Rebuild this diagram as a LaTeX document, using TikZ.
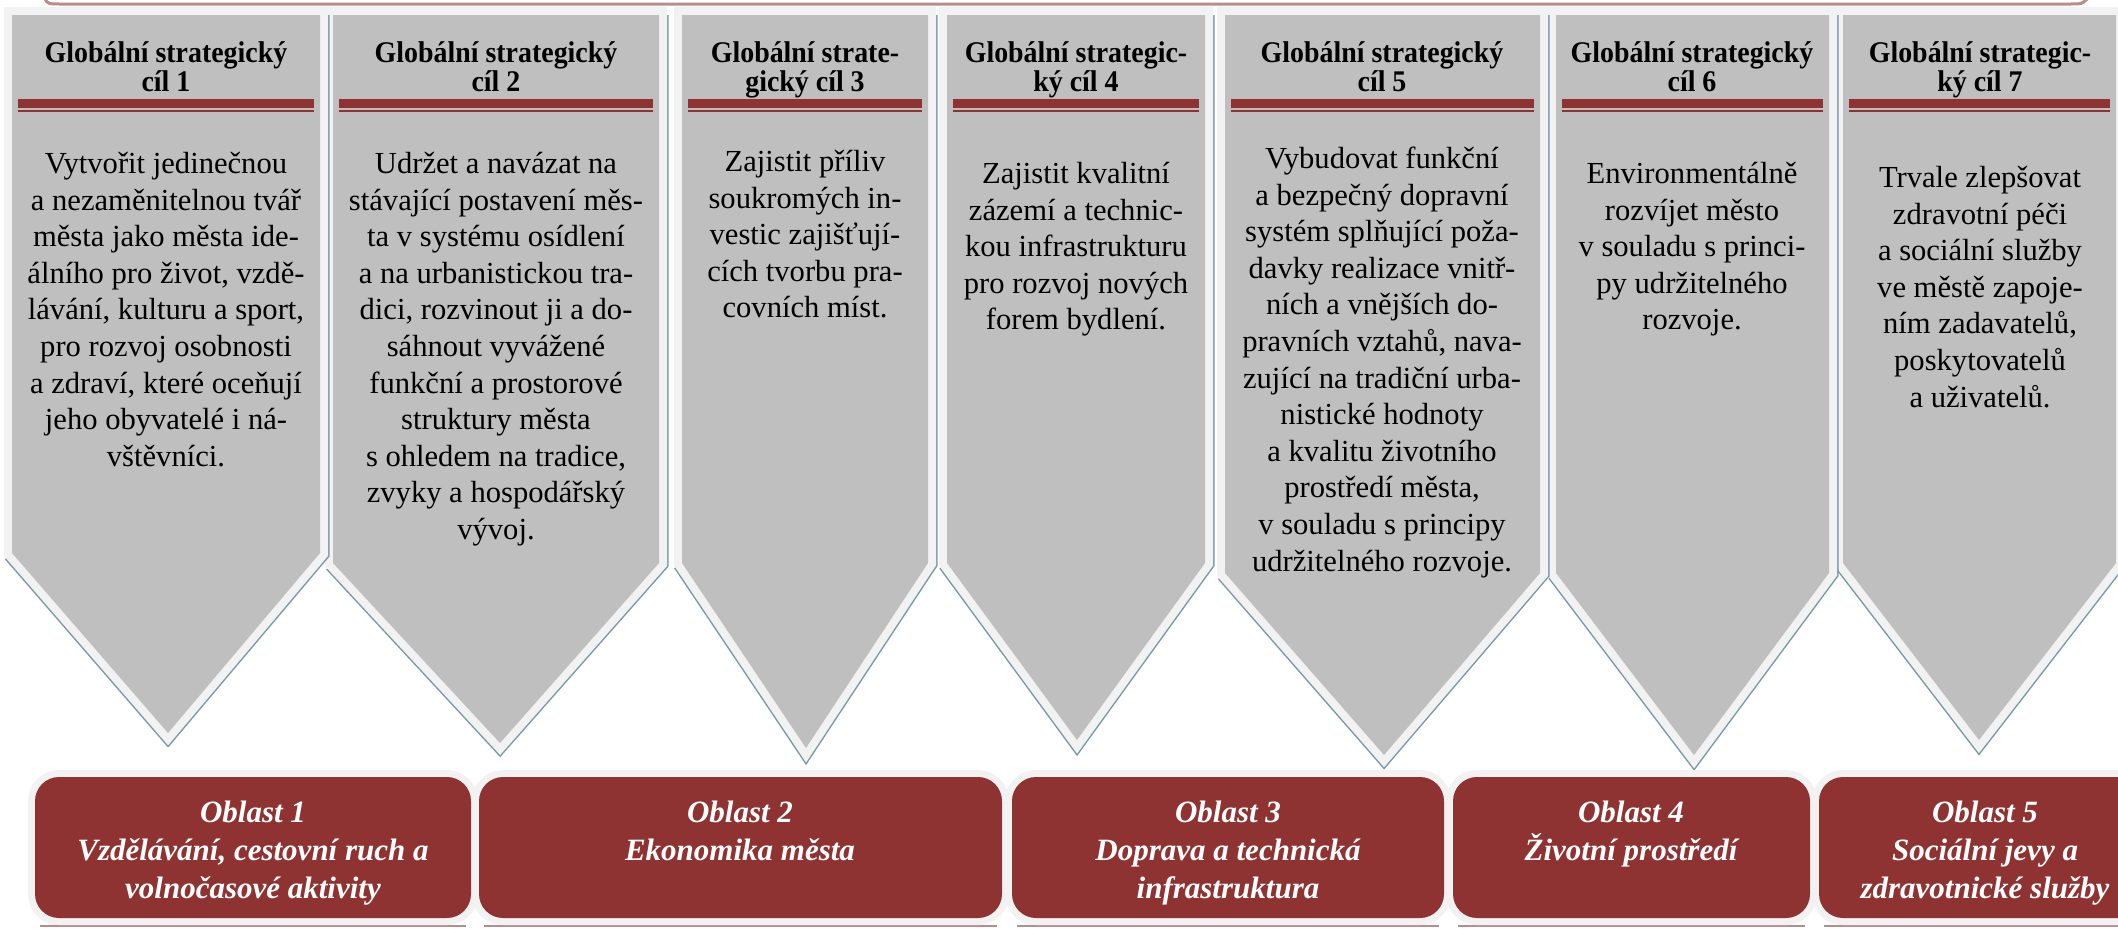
\documentclass[tikz,border=0pt]{standalone}
\usepackage{fontspec}
\setmainfont{Liberation Serif}
\newfontfamily\goalfont[FakeStretch=0.93]{Liberation Serif}
\usetikzlibrary{calc}

\definecolor{panelgrey}{HTML}{BFBFBF}
\definecolor{rimgrey}{HTML}{F2F2F2}
\definecolor{rimblue}{HTML}{7A9AA6}
\definecolor{oblastred}{HTML}{8E3332}
\definecolor{shadowred}{HTML}{B98C8C}
\newcommand\lineone{\rule{0pt}{12pt}}

\begin{document}
\begin{tikzpicture}[x=0.5pt, y=-0.5pt,
  headtext/.style={anchor=north, inner sep=0pt, align=center, font=\goalfont\bfseries\fontsize{15}{14.5}\selectfont},
  goaltext/.style={anchor=north, inner sep=0pt, align=center, font=\fontsize{15.3}{18.3}\selectfont},
  oblasttext/.style={anchor=north, inner sep=0pt, align=center, text=white, font=\bfseries\itshape\fontsize{15.5}{19}\selectfont}]
\useasboundingbox (0,0) rectangle (2118,928);
\clip (0,0) rectangle (2118,928);

\draw[shadowred, line width=1.5pt] (45,-1) .. controls (48,4) .. (62,4) -- (2068,4) .. controls (2082,4) .. (2087,-1);

\foreach \l/\r/\s/\tx/\ty in {1843/2116/563/1979/740, 1556/1829/573/1694/755, 1225/1540/573/1384/755, 947/1205/563/1077/740, 682/928/563/806/748, 333/659/563/500/743, 12/320/553/168/733} {
  \draw[rimblue, line width=9.5pt, line join=miter] (\l,\s) -- (\tx,\ty) -- (\r,\s) -- (\r,15);
  \draw[rimgrey, line width=8pt, line join=miter] (\l,15) -- (\r,15) -- (\r,\s) -- (\tx,\ty) -- (\l,\s) -- cycle;
  \fill[panelgrey] (\l,15) -- (\r,15) -- (\r,\s) -- (\tx,\ty) -- (\l,\s) -- cycle;
  \fill[oblastred] (\l+6,99) rectangle (\r-6,108);
  \fill[oblastred] (\l+6,110) rectangle (\r-6,112);
}

\node[headtext] (head1) at (166,38) {\lineone Globální strategický\\cíl 1};
\node[headtext] (head2) at (496,38) {\lineone Globální strategický\\cíl 2};
\node[headtext] (head3) at (805,38) {\lineone Globální strate-\\gický cíl 3};
\node[headtext] (head4) at (1076,38) {\lineone Globální strategic-\\ký cíl 4};
\node[headtext] (head5) at (1382,38) {\lineone Globální strategický\\cíl 5};
\node[headtext] (head6) at (1692,38) {\lineone Globální strategický\\cíl 6};
\node[headtext] (head7) at (1980,38) {\lineone Globální strategic-\\ký cíl 7};

\node[goaltext] (goal1) at (166,149) {\lineone Vytvořit jedinečnou\\a nezaměnitelnou tvář\\města jako města ide-\\álního pro život, vzdě-\\lávání, kulturu a sport,\\pro rozvoj osobnosti\\a zdraví, které oceňují\\jeho obyvatelé i ná-\\vštěvníci.};
\node[goaltext] (goal2) at (496,149) {\lineone Udržet a navázat na\\stávající postavení měs-\\ta v systému osídlení\\a na urbanistickou tra-\\dici, rozvinout ji a do-\\sáhnout vyvážené\\funkční a prostorové\\struktury města\\s ohledem na tradice,\\zvyky a hospodářský\\vývoj.};
\node[goaltext] (goal3) at (805,147) {\lineone Zajistit příliv\\soukromých in-\\vestic zajišťují-\\cích tvorbu pra-\\covních míst.};
\node[goaltext] (goal4) at (1076,159) {\lineone Zajistit kvalitní\\zázemí a technic-\\kou infrastrukturu\\pro rozvoj nových\\forem bydlení.};
\node[goaltext] (goal5) at (1382,144) {\lineone Vybudovat funkční\\a bezpečný dopravní\\systém splňující poža-\\davky realizace vnitř-\\ních a vnějších do-\\pravních vztahů, nava-\\zující na tradiční urba-\\nistické hodnoty\\a kvalitu životního\\prostředí města,\\v souladu s principy\\udržitelného rozvoje.};
\node[goaltext] (goal6) at (1692,159) {\lineone Environmentálně\\rozvíjet město\\v souladu s princi-\\py udržitelného\\rozvoje.};
\node[goaltext] (goal7) at (1980,163) {\lineone Trvale zlepšovat\\zdravotní péči\\a sociální služby\\ve městě zapoje-\\ním zadavatelů,\\poskytovatelů\\a uživatelů.};

\foreach \l/\r in {35/471, 479/1002, 1012/1444, 1453/1810, 1819/2151} {
  \draw[shadowred, line width=1pt] (\l+5,926) -- (\r-5,926);
  \draw[rimgrey, line width=7pt, rounded corners=12pt] (\l,777) rectangle (\r,918);
  \fill[oblastred, rounded corners=12pt] (\l,777) rectangle (\r,918);
}

\node[oblasttext] (oblast1) at (253,798) {\lineone Oblast 1\\Vzdělávání, cestovní ruch a\\volnočasové aktivity};
\node[oblasttext] (oblast2) at (740,798) {\lineone Oblast 2\\Ekonomika města};
\node[oblasttext] (oblast3) at (1228,798) {\lineone Oblast 3\\Doprava a technická\\infrastruktura};
\node[oblasttext] (oblast4) at (1631,798) {\lineone Oblast 4\\Životní prostředí};
\node[oblasttext] (oblast5) at (1985,798) {\lineone Oblast 5\\Sociální jevy a\\zdravotnické služby};
\end{tikzpicture}
\end{document}
